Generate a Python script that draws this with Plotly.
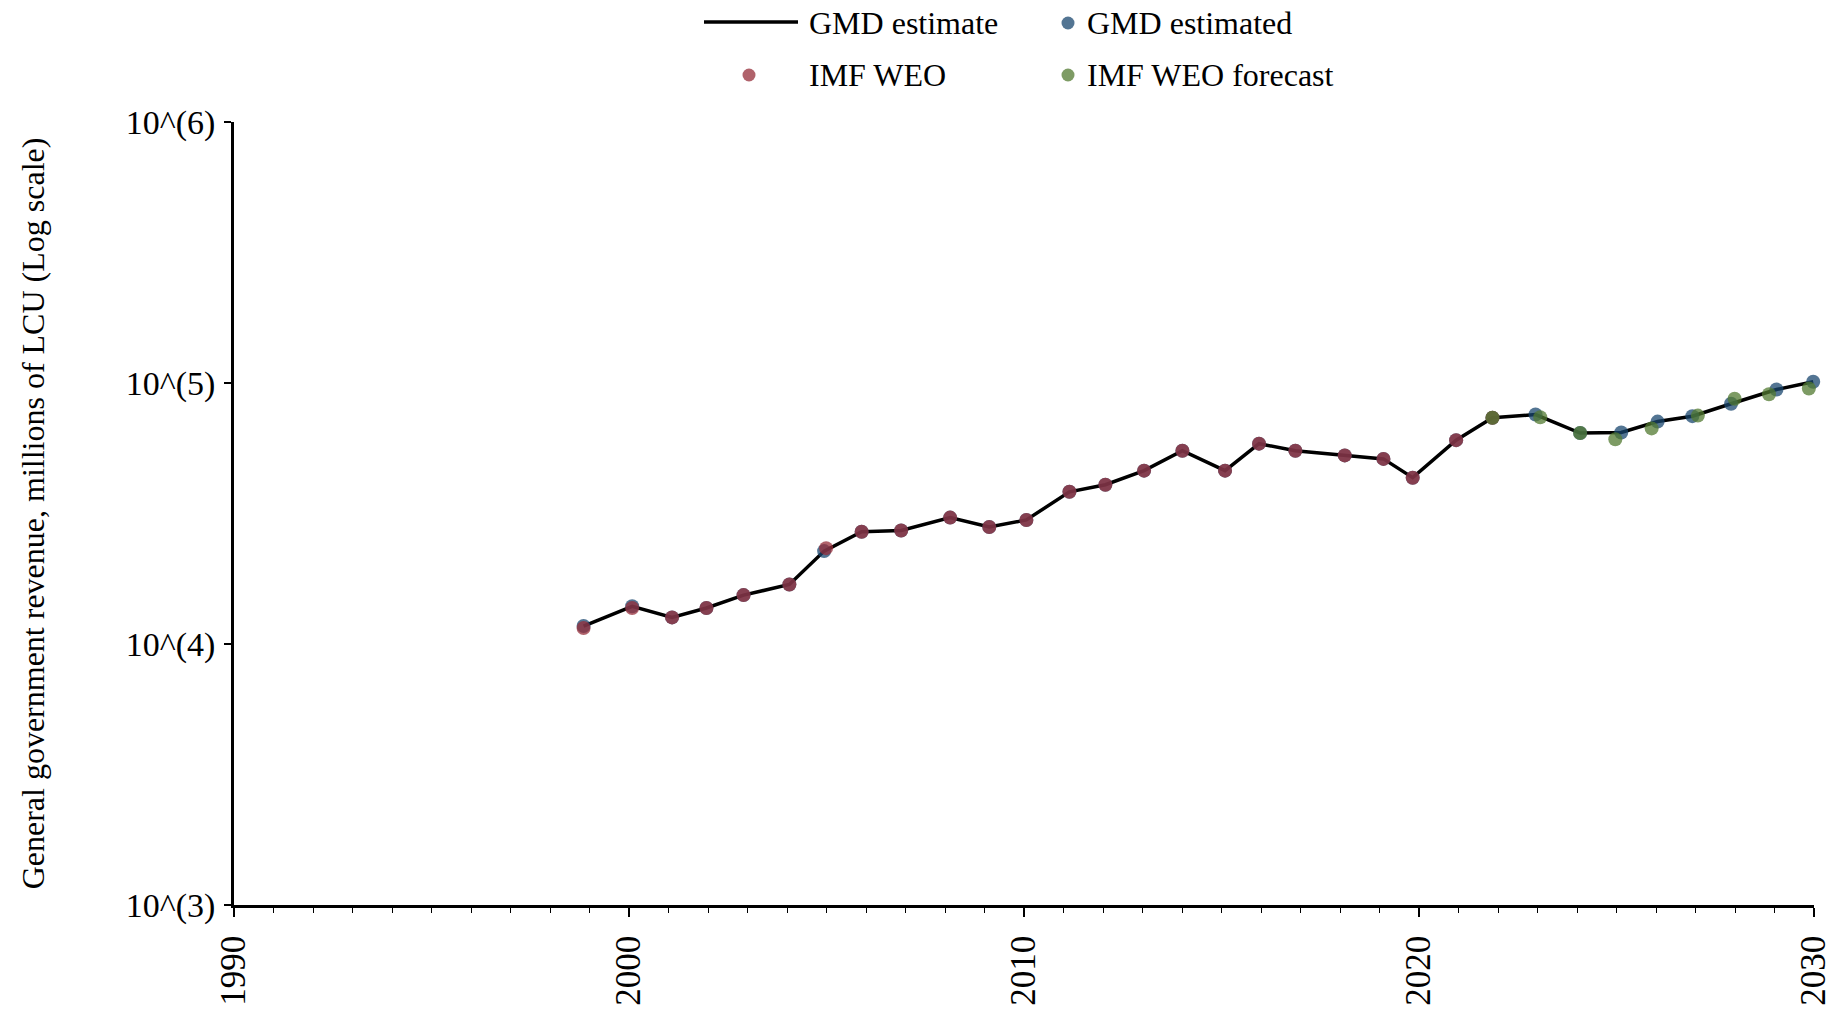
import plotly.graph_objects as go

# ---------------- data ----------------
# GMD estimate (line) and GMD estimated (blue markers)
gmd_year = [1998.85, 2000.08, 2001.09, 2001.96, 2002.90, 2004.06, 2004.94, 2005.89,
            2006.89, 2008.13, 2009.12, 2010.06, 2011.15, 2012.06, 2013.04, 2014.01,
            2015.09, 2015.95, 2016.87, 2018.12, 2019.10, 2019.84, 2020.94, 2021.86,
            2022.95, 2024.08, 2025.12, 2026.04, 2026.92, 2027.90, 2029.05, 2029.98]
gmd_value = [11720, 13950, 12645, 13737, 15393, 16901, 22700, 26934,
             27215, 30500, 28070, 29870, 38300, 40760, 46150, 55040,
             46150, 58560, 55040, 52800, 51190, 43370, 60400, 73560,
             75700, 64290, 64610, 71150, 74630, 83270, 94380, 101070]

# IMF WEO (red markers)
weo_year = [1998.85, 2000.08, 2001.09, 2001.96, 2002.90, 2004.06, 2004.99, 2005.89,
            2006.89, 2008.13, 2009.12, 2010.06, 2011.15, 2012.06, 2013.04, 2014.01,
            2015.09, 2015.95, 2016.87, 2018.12, 2019.10, 2019.84, 2020.94, 2021.86]
weo_value = [11517, 13737, 12645, 13737, 15393, 16901, 23292, 26934,
             27215, 30500, 28070, 29870, 38300, 40760, 46150, 55040,
             46150, 58560, 55040, 52800, 51190, 43370, 60400, 73560]

# IMF WEO forecast (green markers)
fc_year = [2021.86, 2023.07, 2024.08, 2024.97, 2025.89, 2027.06, 2027.99, 2028.86, 2029.87]
fc_value = [73560, 73930, 64290, 60920, 67000, 75010, 87080, 90580, 95280]

y_tick_vals = [1e3, 1e4, 1e5, 1e6]
y_tick_text = ["10^(3)", "10^(4)", "10^(5)", "10^(6)"]
x_tick_vals = [1990, 2000, 2010, 2020, 2030]
x_tick_text = ["1990", "2000", "2010", "2020", "2030"]
legend_labels = ["GMD estimate", "GMD estimated", "IMF WEO", "IMF WEO forecast"]
y_title = "General government revenue, millions of LCU (Log scale)"

# ---------------- styling ----------------
FONT = "Liberation Serif"
FS = 32
BLUE = "rgba(26,71,111,0.75)"
RED = "rgba(150,45,58,0.75)"
GREEN = "rgba(82,122,48,0.75)"
W, H = 1840, 1012
ML, MR, MT, MB = 234, 26, 122, 107
PW, PH = W - ML - MR, H - MT - MB


def px_x(px):
    return (px - ML) / PW


def px_y(py):
    return (H - MB - py) / PH


fig = go.Figure()
fig.add_trace(go.Scatter(x=gmd_year, y=gmd_value, mode="lines",
                         line=dict(color="black", width=3.5), showlegend=False,
                         name=legend_labels[0], cliponaxis=False))
fig.add_trace(go.Scatter(x=gmd_year, y=gmd_value, mode="markers",
                         marker=dict(color=BLUE, size=14, line=dict(width=0)),
                         showlegend=False, name=legend_labels[1], cliponaxis=False))
fig.add_trace(go.Scatter(x=weo_year, y=weo_value, mode="markers",
                         marker=dict(color=RED, size=14, line=dict(width=0)),
                         showlegend=False, name=legend_labels[2], cliponaxis=False))
fig.add_trace(go.Scatter(x=fc_year, y=fc_value, mode="markers",
                         marker=dict(color=GREEN, size=14, line=dict(width=0)),
                         showlegend=False, name=legend_labels[3], cliponaxis=False))

# ---------------- manual legend ----------------
shapes = []
annotations = []
row1, row2 = 23, 75
col1_text, col2_text = 807, 1085
shapes.append(dict(type="line", xref="paper", yref="paper",
                   x0=px_x(704), x1=px_x(798), y0=px_y(22), y1=px_y(22),
                   line=dict(color="black", width=3.5)))


def dot(cx, cy, color):
    return dict(type="circle", xref="paper", yref="paper",
                xsizemode="pixel", ysizemode="pixel",
                xanchor=px_x(cx), yanchor=px_y(cy),
                x0=-6.5, x1=6.5, y0=-6.5, y1=6.5,
                fillcolor=color, line=dict(width=0))


shapes.append(dot(1068, row1, BLUE))
shapes.append(dot(749, row2, RED))
shapes.append(dot(1068, row2, GREEN))
for label, lx, ly in [(legend_labels[0], col1_text, row1), (legend_labels[1], col2_text, row1),
                      (legend_labels[2], col1_text, row2), (legend_labels[3], col2_text, row2)]:
    annotations.append(dict(text=label, xref="paper", yref="paper",
                            x=px_x(lx), y=px_y(ly), xanchor="left", yanchor="middle",
                            showarrow=False, font=dict(family=FONT, size=FS, color="black")))

fig.update_layout(
    width=W, height=H,
    margin=dict(l=ML, r=MR, t=MT, b=MB, autoexpand=False),
    paper_bgcolor="white", plot_bgcolor="white",
    font=dict(family=FONT, size=FS, color="black"),
    showlegend=False,
    shapes=shapes, annotations=annotations,
    xaxis=dict(range=[1990, 2030], tickvals=x_tick_vals, ticktext=x_tick_text,
               tickangle=-90, ticks="outside", ticklen=9, tickwidth=1.5, tickcolor="black",
               showline=True, linecolor="black", linewidth=2.5, showgrid=False, zeroline=False,
               tickfont=dict(family=FONT, size=35, color="black"),
               ticklabeloverflow="allow",
               minor=dict(dtick=1, ticks="outside", ticklen=5, tickwidth=1, tickcolor="black",
                          showgrid=False),
               ticklabelstandoff=5),
    yaxis=dict(type="log", range=[3, 6], tickvals=y_tick_vals, ticktext=y_tick_text,
               ticks="outside", ticklen=7, tickwidth=1.5, tickcolor="black",
               showline=True, linecolor="black", linewidth=2.5, showgrid=False, zeroline=False,
               tickfont=dict(family=FONT, size=34, color="black"),
               ticklabelstandoff=2,
               title=dict(text=y_title, font=dict(family=FONT, size=FS, color="black"),
                          standoff=72)),
)

# remove the page's default body margin so the 1840x1012 figure fills the window
fig.write_html("out.html", config={"displayModeBar": False},
               post_script="document.body.style.margin='0px';")
